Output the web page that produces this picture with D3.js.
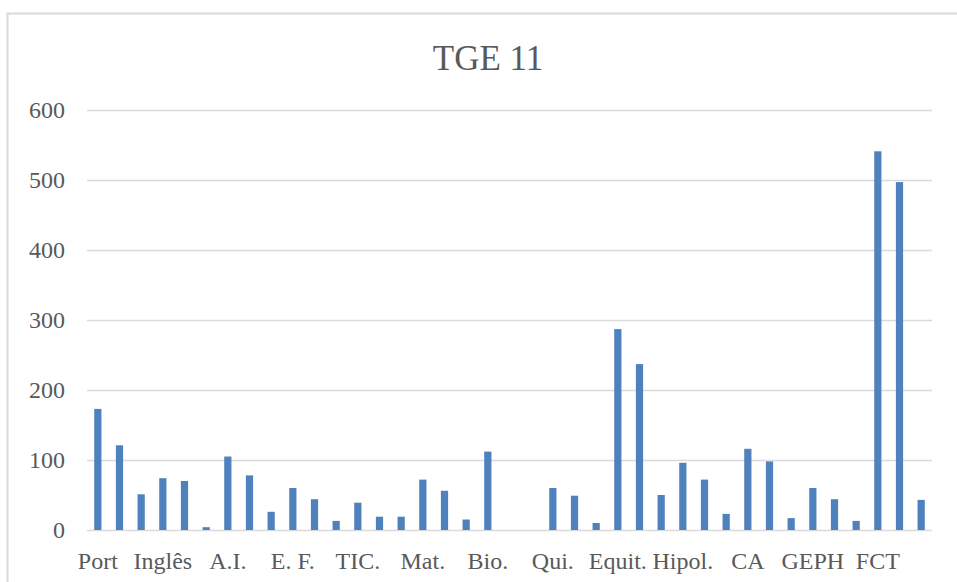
<!DOCTYPE html>
<html lang="pt">
<head>
<meta charset="UTF-8">
<script src="https://d3js.org/d3.v7.min.js"></script>
<title>TGE 11</title>
<style>
  body { margin: 0; background: #fff; }
  text { font-family: "Liberation Serif", "DejaVu Serif", serif; fill: #595959; }
</style>
</head>
<body>
<script>
// shown category labels (Excel skips every 2 of 3)
var tickLabels = ["Port", "Inglês", "A.I.", "E. F.", "TIC.", "Mat.", "Bio.", "Qui.",
                  "Equit.", "Hipol.", "CA", "GEPH", "FCT"];
// one value per category, 39 categories
var values = [173, 121, 51, 74, 70, 4, 105, 78, 26, 60, 44, 13, 39, 19, 19,
              72, 56, 15, 112, 0, 0, 60, 49, 10, 287, 237, 50, 96, 72, 23,
              116, 98, 17, 60, 44, 13, 541, 497, 43];
var yTicks = [0, 100, 200, 300, 400, 500, 600];

var W = 957, H = 582;
var plotLeft = 87, plotRight = 932, plotTop = 110, plotBottom = 530;

var svg = d3.select("body").append("svg")
    .attr("width", W)
    .attr("height", H);

// chart area border
svg.append("rect")
    .attr("x", 7.5).attr("y", 13.5)
    .attr("width", W + 20).attr("height", H + 20)
    .attr("fill", "#fff")
    .attr("stroke", "#d9d9d9")
    .attr("stroke-width", 2);

var x = d3.scaleBand()
    .domain(d3.range(values.length))
    .range([plotLeft, plotRight])
    .paddingInner(2 / 3)
    .paddingOuter(1 / 3);

var y = d3.scaleLinear()
    .domain([0, 600])
    .range([plotBottom, plotTop]);

// gridlines + y labels
var yAxis = svg.append("g")
    .attr("transform", "translate(" + plotLeft + ",0)")
    .call(d3.axisLeft(y).tickValues(yTicks).tickSize(-(plotRight - plotLeft)).tickPadding(22));
yAxis.select(".domain").remove();
yAxis.selectAll(".tick line").attr("stroke", "#d9d9d9").attr("stroke-width", 1.3);
yAxis.selectAll(".tick text")
    .style("font-size", "24px")
    .style("font-family", "'Liberation Serif', serif")
    .attr("fill", "#595959");

// bars
svg.selectAll(".bar")
    .data(values)
    .enter()
    .append("rect")
    .attr("class", "bar")
    .attr("x", function(d, i) { return x(i); })
    .attr("y", function(d) { return y(d); })
    .attr("width", x.bandwidth())
    .attr("height", function(d) { return y(0) - y(d); })
    .attr("fill", "#4f81bd");

// x axis labels
var xAxis = svg.append("g")
    .attr("transform", "translate(0," + plotBottom + ")")
    .call(d3.axisBottom(x)
        .tickValues(d3.range(0, values.length, 3))
        .tickSize(0)
        .tickPadding(22)
        .tickFormat(function(d) { return tickLabels[d / 3]; }));
xAxis.select(".domain").remove();
xAxis.selectAll(".tick text")
    .style("font-size", "24px")
    .style("font-family", "'Liberation Serif', serif")
    .attr("fill", "#595959");

// title
svg.append("text")
    .attr("x", 488)
    .attr("y", 70)
    .attr("text-anchor", "middle")
    .style("font-size", "35px")
    .text("TGE 11");
</script>
</body>
</html>
